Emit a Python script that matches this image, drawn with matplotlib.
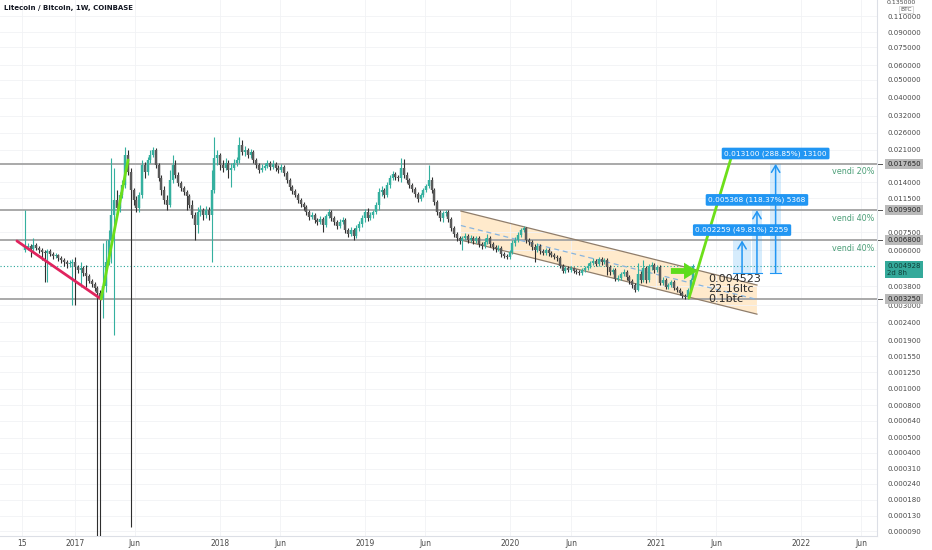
import numpy as np
import pandas as pd
import matplotlib
matplotlib.use('Agg')
import matplotlib.pyplot as plt
import matplotlib.transforms as mtransforms
from matplotlib.patches import Polygon, Rectangle

matplotlib.rcParams['font.family'] = 'DejaVu Sans'

# weekly LTC/BTC candles, first one is the week of 2016-08-29
start_date = '2016-08-29'
first_open = 0.00601
closes = [
    .00625, .00633, .00609, .00640, .00617, .00601, .00587, .00579, .00594, .00572,
    .00558, .00565, .00544, .00530, .00517, .00504, .00511, .00517, .00486, .00468,
    .00480, .00450, .00434, .00407, .00392, .00372, .00350, .00328, .00382, .00517,
    .00682, .00932, .0112, .0102, .0120, .0136, .0197, .0159, .0127, .0112,
    .0102, .0120, .0174, .0159, .0185, .0197, .0209, .0174, .0148, .0127,
    .0112, .0106, .0144, .0174, .0154, .0139, .0131, .0124, .0118, .0106,
    .00932, .00823, .00968, .00992, .00932, .00992, .00932, .0127, .0190, .0197,
    .0174, .0167, .0178, .0163, .0167, .0178, .0185, .0223, .0204, .0209,
    .0197, .0204, .0185, .0174, .0163, .0167, .0172, .0178, .0170, .0176,
    .0167, .0163, .0170, .0157, .0144, .0132, .0126, .0120, .0112, .0107,
    .0103, .00968, .00909, .00932, .00876, .00854, .00887, .00823, .00920, .00968,
    .00898, .00854, .00813, .00854, .00876, .00773, .00735, .00773, .00717, .00793,
    .00833, .00898, .00968, .00898, .00932, .00968, .0106, .0124, .0127, .0120,
    .0136, .0148, .0155, .0150, .0148, .0167, .0154, .0144, .0136, .0129,
    .0121, .0114, .0120, .0127, .0134, .0144, .0127, .0110, .00968, .00898,
    .00955, .00968, .00887, .00793, .00735, .00699, .00674, .00699, .00717, .00682,
    .00699, .00674, .00699, .00649, .00633, .00665, .00699, .00649, .00625, .00609,
    .00617, .00572, .00558, .00551, .00587, .00657, .00682, .00726, .00773, .00793,
    .00682, .00665, .00625, .00601, .00633, .00594, .00579, .00601, .00579, .00565,
    .00551, .00544, .00492, .00462, .00480, .00468, .00480, .00462, .00456, .00450,
    .00468, .00480, .00492, .00511, .00524, .00504, .00537, .00517, .00530, .00486,
    .00456, .00468, .00417, .00423, .00445, .00456, .00428, .00407, .00387, .00363,
    .00445, .00412, .00480, .00412, .00492, .00498, .00468, .00486, .00397, .00412,
    .00377, .00387, .00402, .00372, .00363, .00350, .00337, .00332, .00363, .00412,
    .004928,
]
highs = [
    .00992, .00657, .00649, .00699, .00657, .00633, .00617, .00601, .00609, .00609,
    .00587, .00579, .00572, .00558, .00544, .00530, .00530, .00537, .00551, .00498,
    .00517, .00492, .00498, .00445, .00417, .00402, .00382, .00363, .00657, .00682,
    .00773, .0190, .0167, .0127, .0124, .0144, .0217, .0209, .0167, .0131,
    .0118, .0124, .0185, .0180, .0192, .0209, .0217, .0215, .0178, .0154,
    .0134, .0120, .0163, .0197, .0185, .0159, .0143, .0134, .0127, .0121,
    .0112, .00968, .0103, .0106, .0102, .0104, .0103, .0163, .0246, .0209,
    .0202, .0185, .0190, .0185, .0178, .0187, .0192, .0246, .0237, .0220,
    .0215, .0212, .0209, .0190, .0178, .0176, .0178, .0185, .0183, .0185,
    .0180, .0174, .0176, .0174, .0161, .0148, .0136, .0129, .0123, .0115,
    .0110, .0106, .00992, .00968, .00955, .00898, .00920, .00909, .00944, .0100,
    .00992, .00920, .00876, .00887, .00909, .00898, .00793, .00803, .00793, .00823,
    .00865, .00932, .0100, .0102, .00968, .00992, .0110, .0131, .0134, .0131,
    .0141, .0154, .0161, .0159, .0154, .0190, .0187, .0159, .0148, .0139,
    .0132, .0124, .0123, .0131, .0137, .0174, .0150, .0131, .0112, .00992,
    .00980, .00992, .00992, .00909, .00813, .00754, .00717, .00717, .00745, .00735,
    .00726, .00717, .00717, .00717, .00665, .00699, .00735, .00717, .00665, .00640,
    .00640, .00633, .00587, .00572, .00601, .00682, .00708, .00754, .00793, .00813,
    .00803, .00699, .00682, .00649, .00657, .00649, .00609, .00617, .00617, .00594,
    .00579, .00565, .00558, .00504, .00492, .00492, .00492, .00486, .00474, .00468,
    .00480, .00492, .00511, .00524, .00544, .00537, .00551, .00551, .00544, .00544,
    .00498, .00480, .00480, .00439, .00456, .00474, .00468, .00439, .00417, .00397,
    .00511, .00462, .00530, .00492, .00504, .00517, .00511, .00498, .00498, .00428,
    .00423, .00397, .00412, .00412, .00382, .00372, .00358, .00345, .00372, .00423,
    .00504,
]
lows = [
    .00587, .00601, .00551, .00594, .00601, .00579, .00530, .00402, .00402, .00558,
    .00537, .00544, .00524, .00511, .00492, .00480, .00486, .00300, .00300, .00450,
    .00377, .00434, .00377, .00397, .00377, .00358, .00005, .00005, .00254, .00354,
    .00498, .00511, .00204, .00932, .00968, .0115, .0131, .0154, .0001, .0106,
    .00968, .00968, .0115, .0148, .0154, .0178, .0192, .0167, .0143, .0120,
    .0107, .00992, .0103, .0139, .0148, .0134, .0126, .0120, .00992, .0102,
    .00898, .00682, .00745, .00920, .00876, .00898, .00876, .00517, .0123, .0174,
    .0163, .0159, .0163, .0148, .0132, .0163, .0172, .0178, .0197, .0194,
    .0190, .0190, .0178, .0167, .0157, .0159, .0163, .0167, .0163, .0165,
    .0161, .0157, .0159, .0152, .0139, .0127, .0121, .0117, .0108, .0103,
    .00992, .00932, .00876, .00887, .00844, .00823, .00833, .00754, .00803, .00898,
    .00865, .00823, .00783, .00793, .00833, .00745, .00708, .00717, .00682, .00699,
    .00764, .00803, .00854, .00865, .00876, .00898, .00944, .00992, .0118, .0115,
    .0117, .0131, .0144, .0144, .0143, .0141, .0148, .0139, .0131, .0124,
    .0117, .0110, .0111, .0117, .0124, .0131, .0123, .0106, .00932, .00865,
    .00854, .00920, .00854, .00764, .00708, .00674, .00649, .00601, .00682, .00657,
    .00665, .00649, .00657, .00625, .00609, .00617, .00649, .00625, .00601, .00587,
    .00594, .00551, .00544, .00537, .00537, .00572, .00633, .00665, .00708, .00754,
    .00657, .00640, .00601, .00517, .00587, .00572, .00565, .00565, .00558, .00551,
    .00537, .00524, .00480, .00450, .00450, .00456, .00456, .00450, .00445, .00439,
    .00439, .00456, .00468, .00480, .00498, .00492, .00492, .00498, .00504, .00439,
    .00439, .00445, .00407, .00407, .00412, .00434, .00412, .00392, .00372, .00354,
    .00358, .00397, .00402, .00397, .00402, .00468, .00450, .00456, .00387, .00387,
    .00368, .00368, .00377, .00363, .00354, .00341, .00328, .00324, .00324, .00354,
    .00402,
]

price_ticks = [0.11, 0.09, 0.075, 0.06, 0.05, 0.04, 0.032, 0.026, 0.021, 0.014,
               0.0115, 0.0075, 0.006, 0.0038, 0.003, 0.0024, 0.0019, 0.00155,
               0.00125, 0.001, 0.0008, 0.00064, 0.0005, 0.0004, 0.00031, 0.00024,
               0.00018, 0.00013, 0.00009]
level_lines = [0.01765, 0.0099, 0.0068, 0.00325]
level_notes = ['vendi 20%', 'vendi 40%', 'vendi 40%']
last_price = 0.004928
entry_price = 0.004523
entry_notes = ['0.004523', '22.16ltc', '0.1btc']
target_moves = [0.002259, 0.005368, 0.0131]
target_labels = ['0.002259 (49.81%) 2259', '0.005368 (118.37%) 5368',
                 '0.013100 (288.85%) 13100']
target_spans = [(254.2, 260.7), (261.0, 264.6), (267.5, 271.5)]
date_ticks = ['2016-08-22', '2017-01-01', '2017-06-01', '2018-01-01', '2018-06-01',
              '2019-01-01', '2019-06-01', '2020-01-01', '2020-06-01', '2021-01-01',
              '2021-06-01', '2022-01-01', '2022-06-01']
date_labels = ['15', '2017', 'Jun', '2018', 'Jun', '2019', 'Jun', '2020', 'Jun',
               '2021', 'Jun', '2022', 'Jun']

# drawings (x in weeks since start_date)
trend_down_x, trend_down_y = [-2.9, 27.3], [0.00674, 0.00324]
rally_x, rally_y = [27.3, 37.0], [0.00324, 0.0185]
projection_x, projection_y = [238.4, 253.6], [0.00328, 0.0192]
push_x, push_y = [230.9, 242.4], 0.00462
channel_x = [156.5, 262.8]
channel_top = [0.0098, 0.00387]
channel_mid = [0.00818, 0.00322]
channel_bottom = [0.00682, 0.00267]


def fwd(p):
    return np.log10(np.maximum(np.asarray(p, dtype=float) + 1e-4, 1e-12))


def inv(v):
    return 10 ** np.asarray(v, dtype=float) - 1e-4


def weeks_from_start(d):
    return (pd.Timestamp(d) - pd.Timestamp(start_date)).days / 7.0


fig = plt.figure(figsize=(9.32, 5.5), dpi=100)
ax = fig.add_axes([0, 14 / 550, 877 / 932, 536 / 550])
ax.set_yscale('function', functions=(fwd, inv))
ax.set_ylim(0.0000787, 0.1342)
ax.set_xlim(-8.98, 305.9)

closes = np.array(closes)
opens = np.concatenate([[first_open], closes[:-1]])
highs = np.array(highs)
lows = np.array(lows)
x = np.arange(len(closes))
up = closes >= opens

up_col, dn_col = '#35b09f', '#5a5a5a'
ax.vlines(x[up], lows[up], highs[up], color=up_col, lw=0.8, zorder=3)
ax.vlines(x[~up], lows[~up], highs[~up], color='#2e2e2e', lw=0.8, zorder=3)
ax.vlines(x[up], opens[up], closes[up], color=up_col, lw=1.75, zorder=4)
ax.vlines(x[~up], opens[~up], closes[~up], color=dn_col, lw=1.75, zorder=4)

# grid
ax.set_xticks([weeks_from_start(d) for d in date_ticks])
ax.set_xticklabels(date_labels)
ax.yaxis.tick_right()
ax.set_yticks(price_ticks)
ax.set_yticklabels([f'{v:.6f}' for v in price_ticks])
ax.grid(color='#f1f2f5', lw=0.6, zorder=0)
ax.tick_params(axis='x', length=0, pad=2.0, labelsize=5.5, labelcolor='#4a4a4a')
ax.tick_params(axis='y', length=0, pad=7.2, labelsize=5, labelcolor='#4a4a4a')
for s in ['top', 'left']:
    ax.spines[s].set_visible(False)
for s in ['right', 'bottom']:
    ax.spines[s].set_color('#dcdfe6')
    ax.spines[s].set_linewidth(0.8)

# horizontal levels
blend = mtransforms.blended_transform_factory(ax.transAxes, ax.transData)
for v in level_lines:
    ax.axhline(v, color='#a3a3a3', lw=1.3, zorder=2)
    ax.plot([1.0015, 1.006], [v, v], transform=blend, color='#555555', lw=0.7,
            clip_on=False, zorder=6)
    ax.annotate(f'{v:.6f}', xy=(1, v), xycoords=('axes fraction', 'data'),
                xytext=(7.2, 0), textcoords='offset points', ha='left', va='center',
                fontsize=5, color='#222222', annotation_clip=False, zorder=6,
                bbox=dict(boxstyle='square,pad=0.3', fc='#b9b9b9', ec='none'))
for v, note in zip(level_lines[:3], level_notes):
    ax.annotate(note, xy=(1, v), xycoords=('axes fraction', 'data'),
                xytext=(-2, -2.5), textcoords='offset points', ha='right', va='top',
                fontsize=5.8, color='#4c9f78', zorder=6)

ax.axhline(last_price, color='#26a69a', lw=0.8, ls=(0, (1, 2)), zorder=2)
ax.annotate(f'{last_price:.6f}\n2d 8h', xy=(1, last_price),
            xycoords=('axes fraction', 'data'), xytext=(7.2, -2.8),
            textcoords='offset points', ha='left', va='center', fontsize=5,
            linespacing=1.15, color='#0f3e38', annotation_clip=False, zorder=6,
            bbox=dict(boxstyle='square,pad=0.3', fc='#34a99a', ec='none'))

# parallel channel
poly = Polygon([(channel_x[0], channel_top[0]), (channel_x[1], channel_top[1]),
                (channel_x[1], channel_bottom[1]), (channel_x[0], channel_bottom[0])],
               closed=True, fc='#ff9800', alpha=0.2, ec='none', zorder=1)
ax.add_patch(poly)
ax.plot(channel_x, channel_top, color='#8f7d6b', lw=0.9, zorder=2)
ax.plot(channel_x, channel_bottom, color='#8f7d6b', lw=0.9, zorder=2)
ax.plot(channel_x, channel_mid, color='#88b4de', lw=0.9, ls=(0, (4, 3)), zorder=2)

# trend lines
ax.plot(trend_down_x, trend_down_y, color='#e0245e', lw=2.0, zorder=5,
        solid_capstyle='round')
ax.plot(rally_x, rally_y, color='#6ddf1a', lw=2.0, zorder=5, solid_capstyle='round')
ax.plot(projection_x, projection_y, color='#6ddf1a', lw=2.0, zorder=5,
        solid_capstyle='round')
ax.annotate('', xy=(push_x[1], push_y), xytext=(push_x[0], push_y),
            arrowprops=dict(arrowstyle='simple,head_length=0.8,head_width=1.0,tail_width=0.35',
                            fc='#5ddc1c', ec='none', mutation_scale=12), zorder=6)

# price range targets
for (x0, x1), move, lab in zip(target_spans, target_moves, target_labels):
    top = entry_price + move
    xc = (x0 + x1) / 2
    ax.add_patch(Rectangle((x0, entry_price), x1 - x0, top - entry_price,
                           fc='#2196f3', alpha=0.18, ec='none', zorder=5))
    ax.plot([x0, x1], [entry_price, entry_price], color='#2196f3', lw=0.8, zorder=6)
    ax.annotate('', xy=(xc, top), xytext=(xc, entry_price),
                arrowprops=dict(arrowstyle='->,head_length=0.5,head_width=0.3',
                                color='#2196f3', lw=1.1, shrinkA=0, shrinkB=0), zorder=6)
    ax.annotate(lab, xy=(xc, top), xytext=(0, 7.5), textcoords='offset points',
                ha='center', va='center', fontsize=5.3, color='white', zorder=7,
                bbox=dict(boxstyle='round,pad=0.35,rounding_size=0.2', fc='#2196f3',
                          ec='none'))

# position note, one line every 10 px below the entry level
for k, note in enumerate(entry_notes):
    ax.annotate(note, xy=(245.2, entry_price), xytext=(0, -4.5 - 7.2 * k),
                textcoords='offset points', ha='left', va='center', fontsize=8,
                color='#2a2a2a', zorder=7)

# header texts
fig.text(4 / 932, 1 - 8 / 550, 'Litecoin / Bitcoin, 1W, COINBASE', fontsize=5,
         fontweight='bold', va='center', ha='left', color='#131722')
fig.text(887 / 932, 1 - 0.5 / 550, '0.135000', fontsize=4.5, va='top', ha='left',
         color='#4a4a4a')
fig.text(906 / 932, 1 - 9.5 / 550, 'BTC', fontsize=4.3, va='center', ha='center',
         color='#4a4a4a',
         bbox=dict(boxstyle='square,pad=0.15', fc='white', ec='#c8c8c8', lw=0.5))

fig.savefig('out.png', dpi=100, facecolor='white')
